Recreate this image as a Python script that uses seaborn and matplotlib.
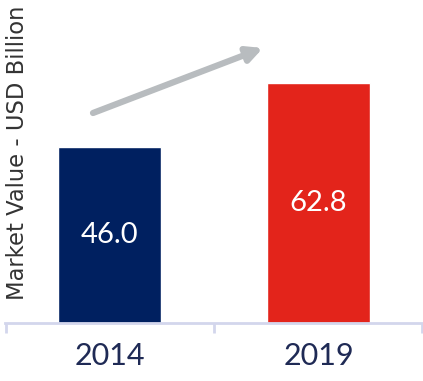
import matplotlib
matplotlib.use("Agg")
import matplotlib.pyplot as plt
import seaborn as sns
import pandas as pd

years = ["2014", "2019"]
values = [46.0, 62.8]
colors = ["#002060", "#e3241b"]
ylabel = "Market Value - USD Billion"

sns.set_style("white")
plt.rcParams['font.family'] = ['Lato', 'DejaVu Sans']

fig = plt.figure(figsize=(4.23, 3.81), dpi=100)
ax = fig.add_axes([5/423, 58/381, 418/423, 323/381])

df = pd.DataFrame({"year": years, "value": values})
sns.barplot(data=df, x="year", y="value", hue="year", palette=colors,
            width=0.496, legend=False, ax=ax, saturation=1)

ax.set_xlim(-0.5, 1.5)
ax.set_ylim(0, 84.4)

for i, v in enumerate(values):
    ax.text(i, v / 2, f"{v:.1f}", ha="center", va="center",
            color="white", fontsize=21)

for s in ["top", "right", "left"]:
    ax.spines[s].set_visible(False)
ax.spines["bottom"].set_color("#d3d6ec")
ax.spines["bottom"].set_linewidth(2)
ax.set_yticks([])
ax.set_xticks([0, 1])
ax.set_xticklabels(years, fontsize=22, color="#1f2a55")
ax.tick_params(axis="x", which="major", length=0, pad=14, bottom=True)
ax.set_xticks([-0.495, 0.5, 1.495], minor=True)
ax.tick_params(axis="x", which="minor", length=7, width=2, color="#d3d6ec",
               direction="out", bottom=True)
ax.set_xlabel("")
ax.set_ylabel("")

fig.text(18/423, 1 - 153/381, ylabel, rotation=90, ha="center", va="center",
         fontsize=16.3, color="#333333", family=["DejaVu Sans"])

ax.annotate("", xy=(263/423, 1 - 48/381), xytext=(93/423, 1 - 113/381),
            xycoords="figure fraction", textcoords="figure fraction",
            arrowprops=dict(arrowstyle="-|>,head_length=0.9,head_width=0.45",
                            color="#b8bcbf", lw=4.5, shrinkA=0, shrinkB=0))

fig.savefig("out.png", dpi=100)
